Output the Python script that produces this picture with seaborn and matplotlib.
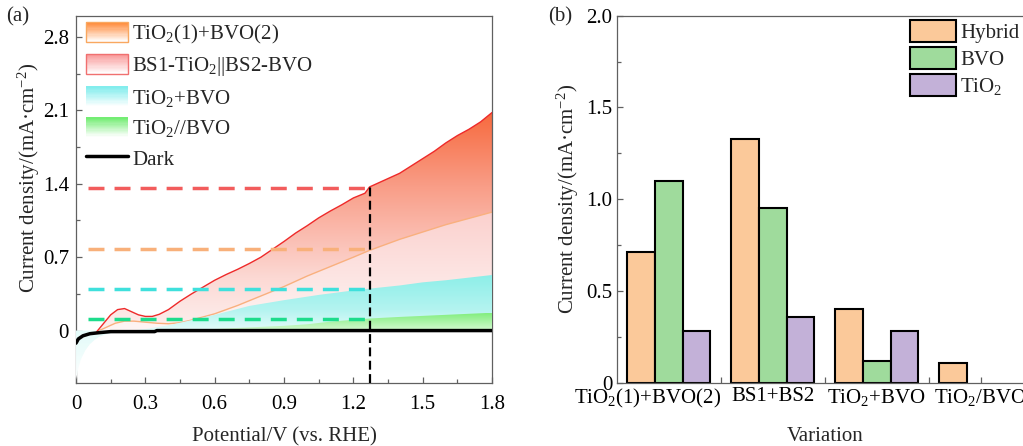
import numpy as np
import pandas as pd
import seaborn as sns
import matplotlib.pyplot as plt
import matplotlib.transforms as mtransforms
from matplotlib.colors import LinearSegmentedColormap
from matplotlib.patches import Rectangle, Patch
from matplotlib.lines import Line2D
from matplotlib.legend_handler import HandlerPatch
from matplotlib.ticker import FuncFormatter

sns.set_theme(style="ticks")
plt.rcParams["font.family"] = ["Liberation Serif", "DejaVu Serif"]
plt.rcParams["mathtext.fontset"] = "custom"
plt.rcParams["mathtext.rm"] = "Liberation Serif"
plt.rcParams["mathtext.it"] = "Liberation Serif:italic"

# (a) LSV curves
dark_x = [0.0, 0.01, 0.03, 0.06, 0.10, 0.15, 0.34, 0.35, 1.80]
dark_y = [-0.12, -0.08, -0.05, -0.03, -0.02, -0.01, -0.01, 0.0, 0.0]

bs_x = [0.09, 0.12, 0.15, 0.18, 0.21, 0.24, 0.27, 0.30, 0.33, 0.36, 0.40, 0.45, 0.50,
        0.55, 0.60, 0.65, 0.70, 0.75, 0.80, 0.85, 0.90, 0.95, 1.00, 1.05, 1.10, 1.15,
        1.20, 1.25, 1.27, 1.30, 1.35, 1.40, 1.45, 1.50, 1.55, 1.60, 1.65, 1.70, 1.75, 1.80]
bs_y = [-0.01, 0.07, 0.15, 0.20, 0.21, 0.18, 0.15, 0.135, 0.135, 0.155, 0.20, 0.28, 0.35,
        0.415, 0.48, 0.535, 0.585, 0.64, 0.70, 0.775, 0.85, 0.93, 1.0, 1.075, 1.14, 1.20,
        1.265, 1.31, 1.37, 1.40, 1.45, 1.50, 1.57, 1.64, 1.71, 1.79, 1.86, 1.92, 1.99, 2.08]

tb_x = [0.09, 0.13, 0.17, 0.21, 0.25, 0.30, 0.35, 0.40, 0.45, 0.50, 0.60, 0.70, 0.75,
        0.80, 0.90, 1.00, 1.10, 1.20, 1.27, 1.40, 1.50, 1.60, 1.70, 1.80]
tb_y = [-0.01, 0.03, 0.07, 0.09, 0.09, 0.08, 0.07, 0.065, 0.075, 0.10, 0.16, 0.24, 0.285,
        0.33, 0.42, 0.52, 0.61, 0.70, 0.765, 0.87, 0.94, 1.01, 1.07, 1.13]

tpb_x = [0.0, 0.01, 0.02, 0.04, 0.06, 0.08, 0.10, 0.13, 0.17, 0.22, 0.30, 0.40, 0.50,
         0.60, 0.75, 0.90, 1.05, 1.19, 1.27, 1.40, 1.50, 1.60, 1.70, 1.80]
tpb_y = [-0.47, -0.36, -0.28, -0.19, -0.13, -0.09, -0.06, -0.035, -0.02, -0.005, 0.015,
         0.05, 0.10, 0.15, 0.235, 0.29, 0.34, 0.38, 0.40, 0.43, 0.46, 0.48, 0.505, 0.53]

tsb_x = [0.20, 0.30, 0.50, 0.60, 0.75, 0.90, 1.00, 1.10, 1.27, 1.40, 1.50, 1.60, 1.70, 1.80]
tsb_y = [0.0, 0.0, 0.01, 0.015, 0.03, 0.045, 0.06, 0.085, 0.115, 0.13, 0.14, 0.15, 0.16, 0.17]

ref_v = 1.27
ref_levels = [1.36, 0.78, 0.40, 0.11]
ref_colors = ["#f25c5c", "#f8b07a", "#3fe0dc", "#1ddc8c"]

# (b) bars
variations = ["TiO$_2$(1)+BVO(2)", "BS1+BS2", "TiO$_2$+BVO", "TiO$_2$/BVO"]
hybrid = [0.71, 1.33, 0.40, 0.11]
bvo = [1.10, 0.95, 0.12, np.nan]
tio2 = [0.28, 0.36, 0.28, np.nan]
series = ["Hybrid", "BVO", "TiO$_2$"]
bar_colors = ["#fbc99a", "#9fdb9c", "#c3b1d8"]

fig = plt.figure(figsize=(10.23, 4.46), dpi=100)
ax1 = fig.add_axes([0.0743, 0.1413, 0.4067, 0.8227])
ax2 = fig.add_axes([0.6028, 0.1419, 0.4067, 0.8229])


def grad_fill(ax, x, y, stops, y0, y1, z):
    poly = ax.fill_between(x, y, 0, facecolor="none", edgecolor="none")
    path = poly.get_paths()[0]
    cmap = LinearSegmentedColormap.from_list("g", stops)
    img = np.linspace(0, 1, 256).reshape(-1, 1)
    im = ax.imshow(img, cmap=cmap, aspect="auto", origin="lower",
                   extent=[0, 1.8, y0, y1], zorder=z, interpolation="bilinear")
    im.set_clip_path(path, ax.transData)


grad_fill(ax1, bs_x, bs_y, [(0, "#fdf0ef"), (0.24, "#fcd9d4"), (0.38, "#fbc4ba"),
                            (0.65, "#f99e88"), (1, "#f7683c")], 0, 2.1, 1)
grad_fill(ax1, tb_x, tb_y, [(0, "#fef6f5"), (1, "#fbd0cd")], 0, 1.15, 2)
grad_fill(ax1, tpb_x, tpb_y, [(0, "#ffffff"), (0.48, "#e2fbf9"), (0.66, "#b4f4f0"),
                              (1, "#8aeee8")], -0.5, 0.55, 3)
grad_fill(ax1, tsb_x, tsb_y, [(0, "#d6f9d3"), (1, "#82ee7e")], 0, 0.17, 4)

sns.lineplot(x=bs_x, y=bs_y, ax=ax1, color="#ee2a2a", lw=1.0, zorder=5)
sns.lineplot(x=tb_x, y=tb_y, ax=ax1, color="#f9b07e", lw=1.0, zorder=2.5)
sns.lineplot(x=dark_x, y=dark_y, ax=ax1, color="black", lw=2.5, zorder=6)

for lvl, c in zip(ref_levels, ref_colors):
    ax1.hlines(lvl, 0.05, ref_v, colors=c, lw=2.5, linestyles=(0, (4.6, 2.9)), zorder=7)
ax1.vlines(ref_v, -0.5, 1.37, colors="black", lw=1.6, linestyles=(0, (4, 2)), zorder=8)

ax1.set_xlim(0, 1.8)
ax1.set_ylim(-0.5, 3.0)
ax1.set_xticks([0, 0.3, 0.6, 0.9, 1.2, 1.5, 1.8])
ax1.set_xticks([0.15, 0.45, 0.75, 1.05, 1.35, 1.65], minor=True)
ax1.set_yticks([0, 0.7, 1.4, 2.1, 2.8])
ax1.set_yticks([0.35, 1.05, 1.75, 2.45], minor=True)

fmt = FuncFormatter(lambda v, p: "0" if abs(v) < 1e-9 else f"{v:.1f}")
for ax in (ax1, ax2):
    ax.xaxis.set_major_formatter(fmt)
    ax.yaxis.set_major_formatter(fmt)
    for s in ax.spines.values():
        s.set_color("#606060")
        s.set_linewidth(0.9)
    ax.tick_params(which="both", direction="in", color="#606060", width=0.9,
                   labelsize=15, labelcolor="black")
    ax.tick_params(which="major", length=4)
    ax.tick_params(which="minor", length=3)

ax1.tick_params(axis="x", pad=9)
ax1.tick_params(axis="y", pad=5)
ax1.set_xlabel("Potential/V (vs. RHE)", fontsize=15)
ax1.set_ylabel("Current density/(mA·cm$^{-2}$)", fontsize=15)
ax1.xaxis.set_label_coords(0.5, -0.12)
ax1.yaxis.set_label_coords(-0.081, 0.56)


class GradHandler(HandlerPatch):
    def __init__(self, top, edge):
        super().__init__()
        self.top = top
        self.edge = edge

    def create_artists(self, legend, orig_handle, xdescent, ydescent, width, height,
                       fontsize, trans):
        cmap = LinearSegmentedColormap.from_list("h", ["#ffffff", self.top])
        arts = []
        n = 16
        for i in range(n):
            r = Rectangle((-xdescent, -ydescent + height * i / n), width, height / n + 0.3,
                          facecolor=cmap((i + 0.5) / n), edgecolor="none", transform=trans)
            arts.append(r)
        if self.edge:
            arts.append(Rectangle((-xdescent, -ydescent), width, height, facecolor="none",
                                  edgecolor=self.edge, lw=1.0, transform=trans))
        return arts


h1 = Patch(label="TiO$_2$(1)+BVO(2)")
h2 = Patch(label="BS1-TiO$_2$||BS2-BVO")
h3 = Patch(label="TiO$_2$+BVO")
h4 = Patch(label="TiO$_2$//BVO")
h5 = Line2D([], [], color="black", lw=2.5, label="Dark")
ax1.legend(handles=[h1, h2, h3, h4, h5], loc="upper left", bbox_to_anchor=(-0.007, 1.017),
           frameon=False, fontsize=15, handlelength=2.05, handleheight=1.05,
           labelspacing=0.42, handletextpad=0.2, borderaxespad=0.2,
           handler_map={h1: GradHandler("#ff8a3a", "#f9a860"),
                        h2: GradHandler("#f99a9a", "#f07070"),
                        h3: GradHandler("#80ecec", None),
                        h4: GradHandler("#70ec70", None)})

# (b)
df = pd.DataFrame({
    "Variation": variations * 3,
    "Series": [s for s in series for _ in variations],
    "Current": hybrid + bvo + tio2,
}).dropna()
sns.barplot(data=df, x="Variation", y="Current", hue="Series", order=variations,
            hue_order=series, palette=bar_colors, saturation=1, edgecolor="black",
            linewidth=1.5, width=0.8, ax=ax2, legend=False)
ax2.set_xlim(-0.5, 3.5)
ax2.set_ylim(0, 2.0)
ax2.set_yticks([0, 0.5, 1.0, 1.5, 2.0])
ax2.set_yticks([0.25, 0.75, 1.25, 1.75], minor=True)
ax2.set_xticks(range(4))
ax2.set_xticklabels(variations)
ax2.set_xticks([0.5, 1.5, 2.5], minor=True)
ax2.tick_params(axis="x", which="minor", length=4)
ax2.tick_params(axis="x", pad=3)
ax2.tick_params(axis="y", pad=3)
# first category label sits a bit to the left in the original
lab0 = ax2.get_xticklabels()[0]
lab0.set_transform(lab0.get_transform() +
                   mtransforms.ScaledTranslation(-0.21, 0, fig.dpi_scale_trans))
ax2.set_xlabel("Variation", fontsize=15)
ax2.set_ylabel("Current density/(mA·cm$^{-2}$)", fontsize=15)
ax2.xaxis.set_label_coords(0.5, -0.12)
ax2.yaxis.set_label_coords(-0.086, 0.5)
ax2.legend(handles=[Patch(facecolor=c, edgecolor="black", lw=1.5, label=s)
                    for c, s in zip(bar_colors, series)],
           loc="upper left", bbox_to_anchor=(0.695, 1.0), frameon=False, fontsize=15,
           handlelength=2.2, handleheight=1.24, labelspacing=0.2, handletextpad=0.2,
           borderaxespad=0.0, borderpad=0.2)

fig.text(0.006, 0.962, "(a)", fontsize=15, va="center")
fig.text(0.536, 0.962, "(b)", fontsize=15, va="center")

fig.savefig("out.png", dpi=100)
